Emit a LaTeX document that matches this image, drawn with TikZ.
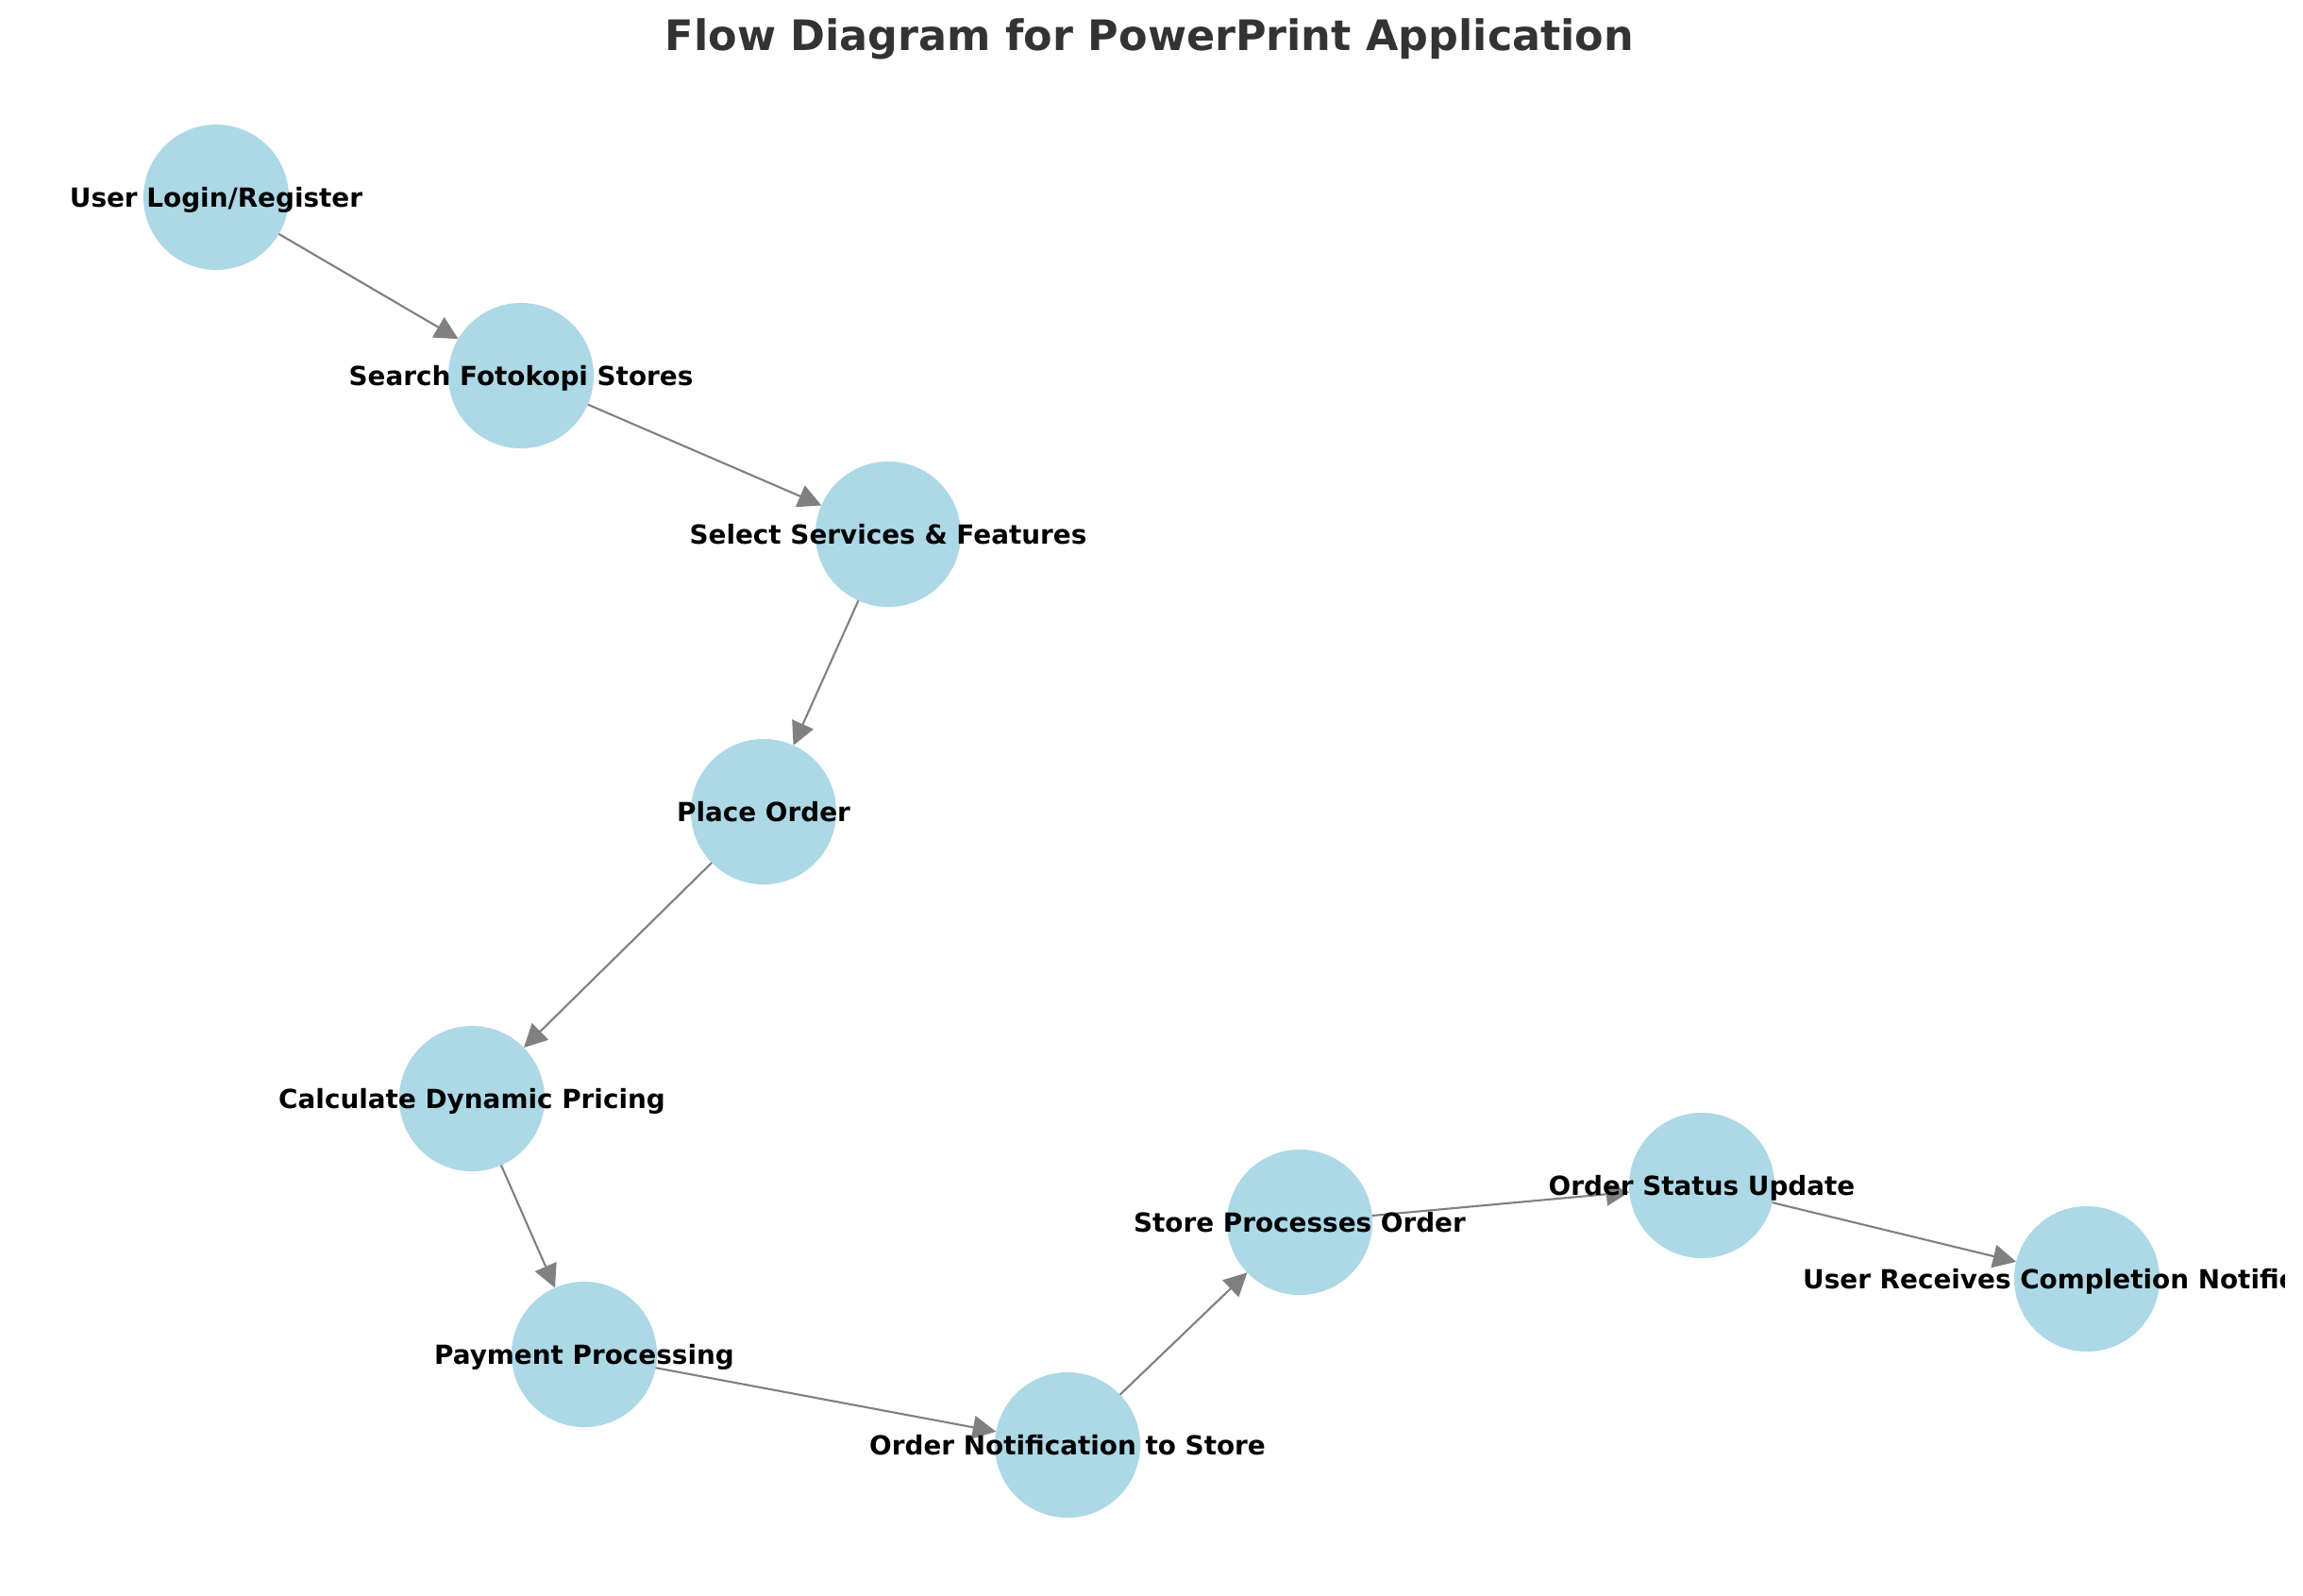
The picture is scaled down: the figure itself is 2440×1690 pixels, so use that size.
\documentclass[tikz,border=0pt]{standalone}
\usepackage{fontspec}
\setmainfont{DejaVu Sans}
\usepackage{tikz}
\usetikzlibrary{arrows.meta}
\definecolor{stagefill}{HTML}{ADD8E6}
\definecolor{flowgray}{HTML}{808080}
\definecolor{titlegray}{HTML}{333333}

\begin{document}
\begin{tikzpicture}[
  x=0.01cm, y=-0.01cm,
  stage/.style={circle, fill=stagefill, minimum size=1.54cm, inner sep=0pt, outer sep=0pt},
  lbl/.style={font=\fontsize{7.92}{9.5}\selectfont\bfseries, text=black, inner sep=0pt,
              text height=1.35ex, text depth=0.3ex},
  arr/.style={-{Triangle[length=2.45mm, width=2.45mm]}, line width=0.6pt, flowgray},
]
  \useasboundingbox (0,0) rectangle (2440,1690);
  \clip (0,0) rectangle (2420,1690);

  % Title
  \node[font=\fontsize{12.65}{15}\selectfont\bfseries, text=titlegray] (title) at (1218, 41)
    {Flow Diagram for PowerPrint Application};

  % Stages
  \node[stage] (login)   at (229, 209)  {};
  \node[stage] (search)  at (552, 398)  {};
  \node[stage] (select)  at (941, 566)  {};
  \node[stage] (place)   at (809, 860)  {};
  \node[stage] (pricing) at (500, 1164) {};
  \node[stage] (payment) at (619, 1435) {};
  \node[stage] (notify)  at (1131, 1531) {};
  \node[stage] (process) at (1377, 1295) {};
  \node[stage] (status)  at (1803, 1256) {};
  \node[stage] (done)    at (2211, 1355) {};

  % Flow
  \draw[arr] (login) -- (search);
  \draw[arr] (search) -- (select);
  \draw[arr] (select) -- (place);
  \draw[arr] (place) -- (pricing);
  \draw[arr] (pricing) -- (payment);
  \draw[arr] (payment) -- (notify);
  \draw[arr] (notify) -- (process);
  \draw[arr] (process) -- (status);
  \draw[arr] (status) -- (done);

  % Labels on top
  \node[lbl] (login-t)   at (login)   {User Login/Register};
  \node[lbl] (search-t)  at (search)  {Search Fotokopi Stores};
  \node[lbl] (select-t)  at (select)  {Select Services \& Features};
  \node[lbl] (place-t)   at (place)   {Place Order};
  \node[lbl] (pricing-t) at (pricing) {Calculate Dynamic Pricing};
  \node[lbl] (payment-t) at (payment) {Payment Processing};
  \node[lbl] (notify-t)  at (notify)  {Order Notification to Store};
  \node[lbl] (process-t) at (process) {Store Processes Order};
  \node[lbl] (status-t)  at (status)  {Order Status Update};
  \node[lbl] (done-t)    at (done)    {User Receives Completion Notification};

\end{tikzpicture}
\end{document}
